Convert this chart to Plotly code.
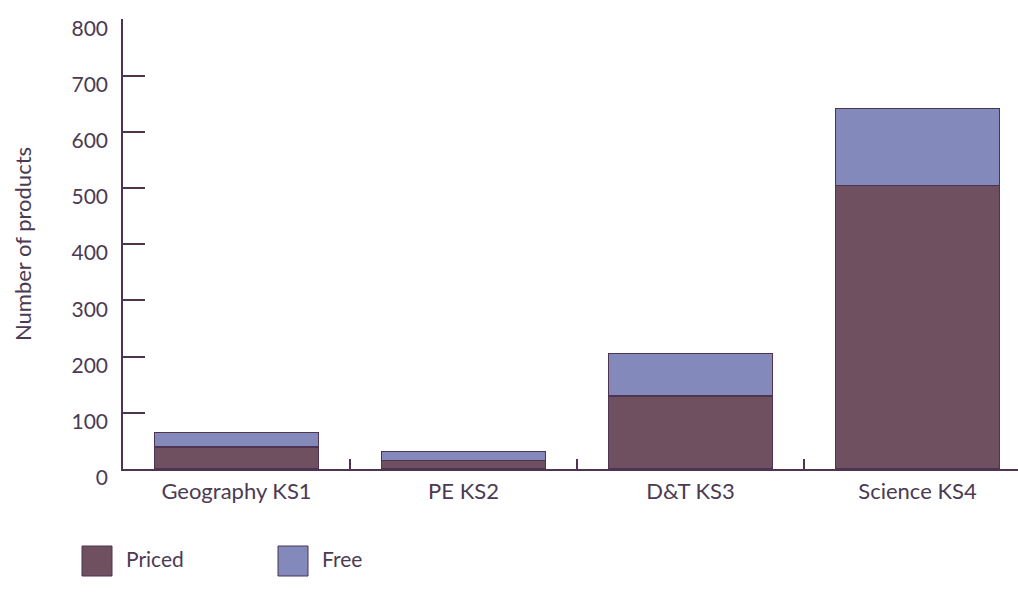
import plotly.graph_objects as go

categories = ["Geography KS1", "PE KS2", "D&T KS3", "Science KS4"]
priced = [39, 15, 130, 505]
free = [26, 16, 75, 136]
y_ticks = [0, 100, 200, 300, 400, 500, 600, 700, 800]

PRICED_C = "#6f5060"
FREE_C = "#838abb"
LINE_C = "#4e3450"
TEXT_C = "#4b3a52"
FONT = "Lato, 'Open Sans', sans-serif"

fig = go.Figure()
fig.add_trace(go.Bar(x=categories, y=priced, name="Priced", width=0.72,
                     marker=dict(color=PRICED_C, line=dict(color=LINE_C, width=1.2))))
fig.add_trace(go.Bar(x=categories, y=free, name="Free", width=0.72,
                     marker=dict(color=FREE_C, line=dict(color=LINE_C, width=1.2))))

W, H = 1018, 593
L, R, T, B = 123, 0, 19, 124
pw, ph = W - L - R, H - T - B

def px(x):
    return (x - L) / pw

def py(y):
    return (H - B - y) / ph

shapes = []
annotations = []
for name, col, x0, tx in [("Priced", PRICED_C, 82, 124), ("Free", FREE_C, 278, 320)]:
    shapes.append(dict(type="rect", xref="paper", yref="paper",
                       x0=px(x0), x1=px(x0 + 30), y0=py(546), y1=py(576),
                       fillcolor=col, line=dict(color=LINE_C, width=1)))
    annotations.append(dict(text=name, xref="paper", yref="paper", x=px(tx), y=py(558),
                            xanchor="left", yanchor="middle", showarrow=False,
                            font=dict(size=21, color=TEXT_C, family=FONT)))

fig.update_layout(
    width=W, height=H,
    margin=dict(l=L, r=R, t=T, b=B),
    barmode="stack",
    showlegend=False,
    plot_bgcolor="white", paper_bgcolor="white",
    font=dict(family=FONT, color=TEXT_C, size=21),
    shapes=shapes, annotations=annotations,
    xaxis=dict(range=[-0.5, (W - R - L) / 227 - 0.5], showline=True, linecolor=LINE_C, linewidth=1.5,
               ticks="inside", tickson="boundaries", ticklen=10, tickcolor=LINE_C, tickwidth=1.5,
               showgrid=False, zeroline=False, tickfont=dict(size=22, color=TEXT_C),
               ticklabelstandoff=2),
    yaxis=dict(range=[0, 800.5], tickvals=y_ticks, showline=True, linecolor=LINE_C, linewidth=1.5,
               ticks="inside", ticklen=22, tickcolor=LINE_C, tickwidth=1.5,
               showgrid=False, zeroline=False, tickfont=dict(size=21, color=TEXT_C),
               ticklabelstandoff=9, ticklabelshift=9,
               title=dict(text="Number of products", font=dict(size=22, color=TEXT_C), standoff=34)),
)

fig.write_html("out.html")
